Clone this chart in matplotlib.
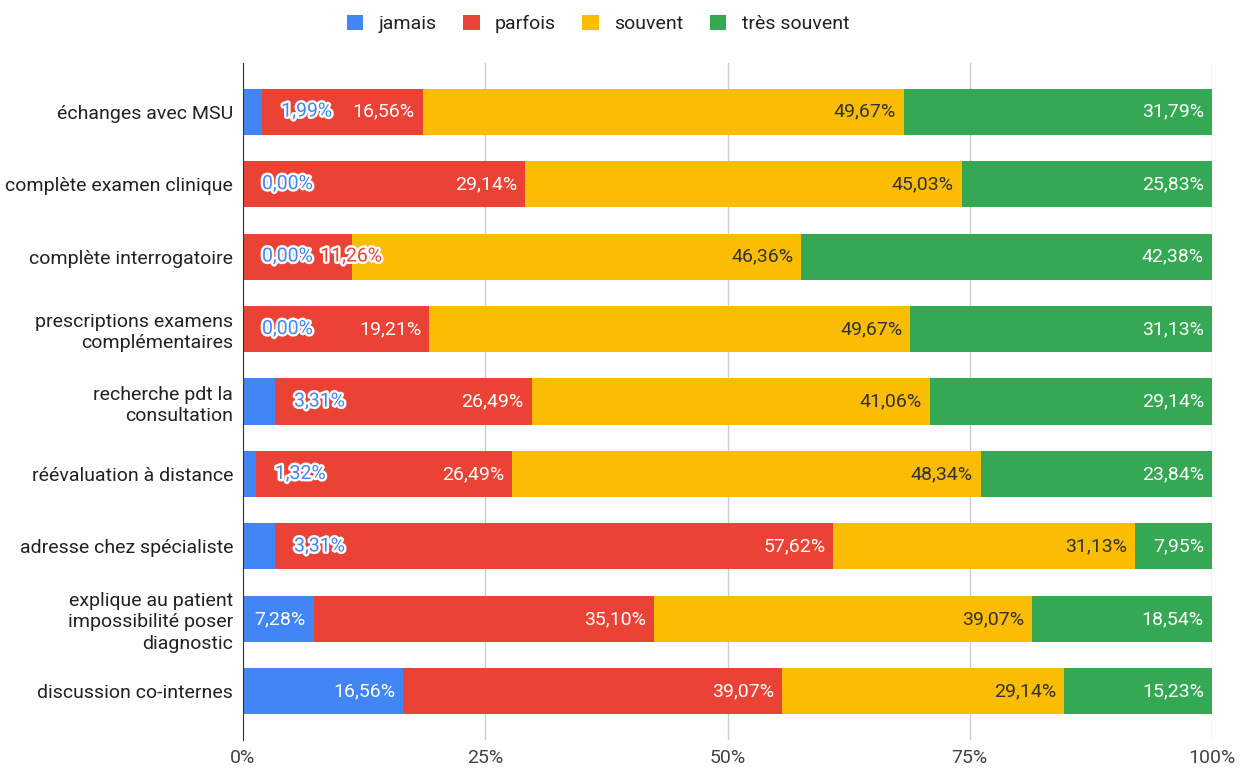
import numpy as np
import matplotlib
matplotlib.use('Agg')
import matplotlib.pyplot as plt
import matplotlib.patheffects as pe
from matplotlib.patches import Patch

plt.rcParams['font.family'] = ['Roboto', 'DejaVu Sans']

categories = [
    "échanges avec MSU",
    "complète examen clinique",
    "complète interrogatoire",
    "prescriptions examens\ncomplémentaires",
    "recherche pdt la\nconsultation",
    "réévaluation à distance",
    "adresse chez spécialiste",
    "explique au patient\nimpossibilité poser\ndiagnostic",
    "discussion co-internes",
]
series_names = ["jamais", "parfois", "souvent", "très souvent"]
jamais = [1.99, 0.00, 0.00, 0.00, 3.31, 1.32, 3.31, 7.28, 16.56]
parfois = [16.56, 29.14, 11.26, 19.21, 26.49, 26.49, 57.62, 35.10, 39.07]
souvent = [49.67, 45.03, 46.36, 49.67, 41.06, 48.34, 31.13, 39.07, 29.14]
tres_souvent = [31.79, 25.83, 42.38, 31.13, 29.14, 23.84, 7.95, 18.54, 15.23]
xticks = [0, 25, 50, 75, 100]
xtick_labels = ["0%", "25%", "50%", "75%", "100%"]

colors = ["#4285F4", "#EA4335", "#FBBC04", "#34A853"]
label_colors = ["white", "white", "#333333", "white"]
fs = 14

fig = plt.figure(figsize=(12.4, 7.68), dpi=100)
ax = fig.add_axes([243 / 1240, 1 - 740 / 768, 969 / 1240, 677 / 768])

data = np.array([jamais, parfois, souvent, tres_souvent])
y = np.arange(len(categories))
left = np.zeros(len(categories))
for i, vals in enumerate(data):
    ax.barh(y, vals, left=left, height=0.635, color=colors[i], zorder=3,
            label=series_names[i])
    left += vals

ax.set_xlim(0, 100)
ax.set_ylim(8.67, -0.67)
ax.set_yticks(y)
ax.set_yticklabels(categories, fontsize=fs, color="#222222", linespacing=1.22)
ax.set_xticks(xticks)
ax.set_xticklabels(xtick_labels, fontsize=fs, color="#444444")
ax.tick_params(axis="both", length=0)
ax.tick_params(axis="y", pad=7)
ax.tick_params(axis="x", pad=6.5)
ax.grid(axis="x", color="#cccccc", linewidth=1, zorder=0)
for s in ["top", "right", "bottom"]:
    ax.spines[s].set_visible(False)
ax.spines["left"].set_color("#333333")
ax.spines["left"].set_zorder(4)

# value labels, placed in pixel space like the Google chart
fig.canvas.draw()
renderer = fig.canvas.get_renderer()
to_px = ax.transData
to_data = ax.transData.inverted()
pad = 8
for r in range(len(categories)):
    start = 0.0
    last_right = -1e9
    for i in range(4):
        v = data[i, r]
        end = start + v
        txt = f"{v:.2f}%".replace(".", ",")
        t = ax.text(0, r, txt, fontsize=fs, va="center", ha="left", zorder=5)
        w = t.get_window_extent(renderer).width
        x0 = to_px.transform((start, r))[0]
        x1, ypx = to_px.transform((end, r))
        inside_left = x1 - pad - w
        if inside_left >= x0 + pad and inside_left >= last_right + 6:
            lx = inside_left
            t.set_color(label_colors[i])
        else:
            if inside_left >= x0 + pad:
                lx = last_right + 7
            else:
                lx = max(x1 + 19, last_right + 7)
            t.set_color(colors[i])
            t.set_path_effects([pe.withStroke(linewidth=3.5, foreground="white")])
        t.set_position((to_data.transform((lx, ypx))[0], r))
        last_right = lx + w
        start = end

handles = [Patch(facecolor=c, edgecolor="none") for c in colors]
fig.legend(handles, series_names, loc="center", bbox_to_anchor=(598 / 1240, 1 - 24 / 768),
           ncol=4, frameon=False, fontsize=fs, handlelength=0.85, handleheight=0.85,
           handletextpad=0.8, columnspacing=1.35, labelcolor="#222222")

fig.savefig("out.png", dpi=100)
